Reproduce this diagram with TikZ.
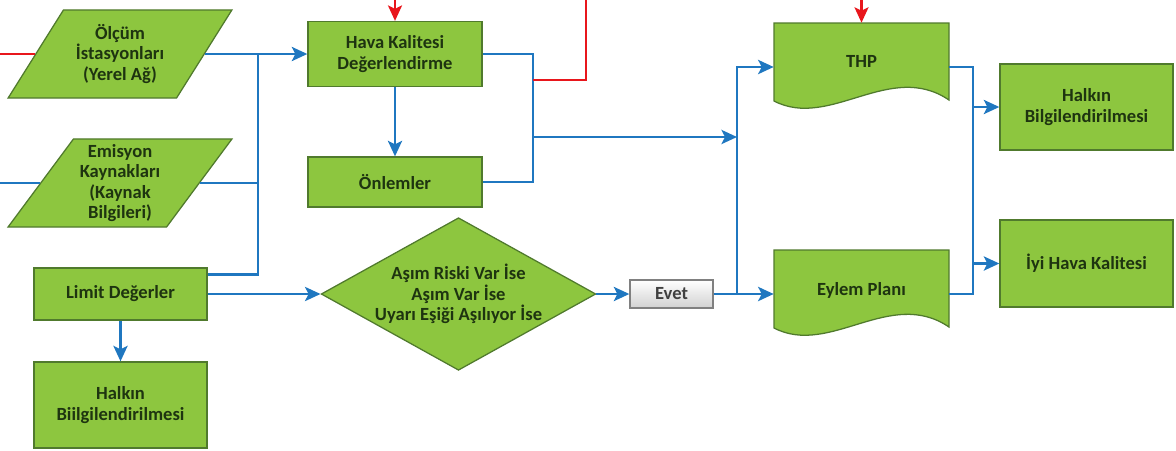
\documentclass[tikz,border=0pt]{standalone}
\usepackage{fontspec}
\setmainfont{Carlito}
\usetikzlibrary{shapes.geometric, arrows.meta}

\definecolor{boxgreen}{RGB}{141,198,63}
\definecolor{edgegreen}{RGB}{80,122,45}
\definecolor{textgreen}{RGB}{30,52,16}
\definecolor{flowblue}{RGB}{31,119,192}
\definecolor{alertred}{RGB}{232,22,28}

\begin{document}
\begin{tikzpicture}[x=0.025cm, y=-0.025cm,
  every node/.style={font=\fontsize{13.2}{14.6}\selectfont\bfseries, text=textgreen, align=center},
  proc/.style={rectangle, draw=edgegreen, fill=boxgreen, line width=0.9pt, minimum width=4.35cm},
  data/.style={trapezium, trapezium left angle=54, trapezium right angle=126, trapezium stretches=true, draw=edgegreen, fill=boxgreen, line width=0.9pt, inner sep=0pt, minimum width=5.6cm, minimum height=2.2cm},
  decision/.style={diamond, aspect=1.8, draw=edgegreen, fill=boxgreen, line width=0.9pt, inner sep=0pt, minimum width=6.675cm, minimum height=3.675cm},
  evetbox/.style={rectangle, draw=black!50, top color=white, bottom color=black!18, line width=0.9pt, inner sep=0pt, minimum width=2.075cm, minimum height=0.7cm, text=black!75},
  docpage/.style={rectangle, inner sep=0pt, minimum width=4.375cm, minimum height=2.2cm},
  docfill/.style={draw=edgegreen, fill=boxgreen, line width=0.9pt},
  flow/.style={draw=flowblue, line width=2.1pt},
  flowarrow/.style={flow, -{Stealth[length=11pt, width=10pt, inset=2.5pt]}},
  alert/.style={draw=alertred, line width=1.7pt},
  alertarrow/.style={alert, -{Stealth[length=11pt, width=10pt, inset=2.5pt]}},
]
\useasboundingbox (0,0) rectangle (1176,450);
%\draw[help lines, step=50] (0,0) grid (1176,450);

% left column
\node[data] (olcum) at (120,54) {Ölçüm\\İstasyonları\\(Yerel Ağ)};
\node[data] (emisyon) at (120,183) {Emisyon\\Kaynakları\\(Kaynak\\Bilgileri)};
\node[proc, minimum width=4.325cm, minimum height=1.3cm] (limit) at (120.5,294) {Limit Değerler};
\node[proc, minimum width=4.325cm, minimum height=2.15cm] (halkinA) at (120.5,405) {Halkın\\Biilgilendirilmesi};

% middle
\node[proc, minimum height=1.625cm] (hava) at (395,54) {Hava Kalitesi\\Değerlendirme};
\node[proc, minimum height=1.25cm] (onlem) at (395,182) {Önlemler};
\node[decision] (karar) at (458.5,294) {Aşım Riski Var İse\\Aşım Var İse\\Uyarı Eşiği Aşılıyor İse};
\node[evetbox] (evet) at (671.5,294) {Evet};

% documents
\foreach \t in {23,250}
  \filldraw[docfill] (774,\t) -- (949,\t) -- (949,\t+77) .. controls (890,\t+37) and (830,\t+107) .. (774,\t+78) -- cycle;
\node[docpage] (thp) at (861.5,67) {\raisebox{0.275cm}{THP}};
\node[docpage] (eylem) at (861.5,294) {\raisebox{0.275cm}{Eylem Planı}};

% right column
\node[proc, minimum width=4.325cm, minimum height=2.15cm] (halkinB) at (1086.5,107) {Halkın\\Bilgilendirilmesi};
\node[proc, minimum width=4.325cm, minimum height=2.175cm] (iyi) at (1086.5,263.5) {İyi Hava Kalitesi};

\coordinate (redin) at (0,54);
\coordinate (bluein) at (0,183);
\coordinate (jA) at (258,54);
\coordinate (jB) at (533,137);
\coordinate (jC) at (737,137);
\coordinate (jD) at (973,180);
\coordinate (rA) at (533,80);
\coordinate (rB) at (586,0);

\draw[alert] (redin) -- (olcum.left side);
\draw[flow] (bluein) -- (emisyon.left side);
\draw[flowarrow] (olcum.right side) -- (olcum.right side -| hava.west);
\draw[flow] (emisyon.right side) -- (emisyon.right side -| jA);
\draw[flow] ([yshift=-0.175cm]limit.north east) -| (jA);
\draw[flowarrow] (limit.east) -- (karar.west);
\draw[flowarrow] (limit.south) -- (halkinA.north);
\draw[flowarrow] (hava.south) -- (onlem.north);
\draw[flow] (hava.east) -| (jB) |- (onlem.east);
\draw[flowarrow] (jB) -- (jC);
\draw[alert] (rA) -| (rB);
\draw[alertarrow] (hava.north |- rB) -- (hava.north);
\draw[alertarrow] (thp.north |- rB) -- (thp.north);
\draw[flowarrow] (karar.east) -- (evet.west);
\draw[flowarrow] (evet.east) -- (eylem.west);
\draw[flowarrow] (evet.east -| jC) |- (thp.west);
\draw[flow] (thp.east) -| (jD) |- (eylem.east);
\draw[flowarrow] (jD |- halkinB.west) -- (halkinB.west);
\draw[flowarrow] (jD |- iyi.west) -- (iyi.west);
\end{tikzpicture}
\end{document}
